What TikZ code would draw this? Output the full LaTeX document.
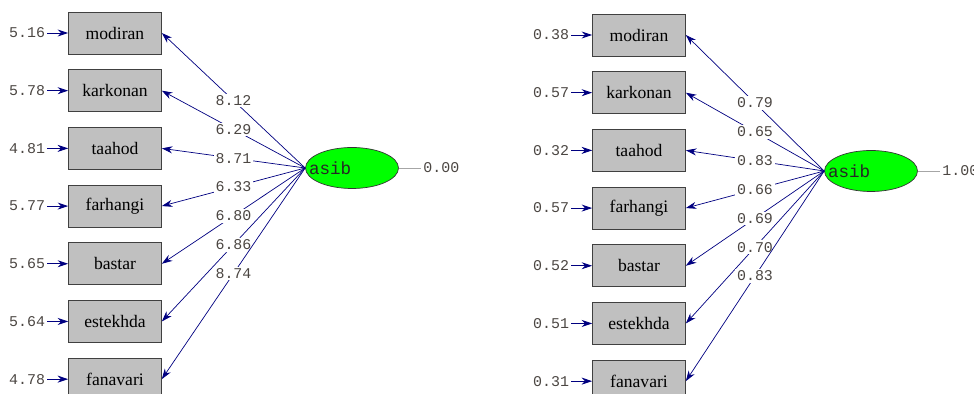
\documentclass[tikz,border=0pt]{standalone}
\usepackage{fontspec}
\setmainfont{Liberation Serif}
\setmonofont{Liberation Mono}
\usepackage{tikz}
\usetikzlibrary{shapes.geometric}
\usetikzlibrary{arrows.meta}
\usetikzlibrary{positioning}
\definecolor{lnavy}{RGB}{0,0,128}
\definecolor{numgray}{RGB}{75,70,66}
\definecolor{boxgray}{RGB}{192,192,192}

\begin{document}
\begin{tikzpicture}
          [x=0.02cm, y=-0.02cm, >={Stealth[length=6pt, width=4pt]},
           var/.style={draw=black!75, fill=boxgray, minimum width=1.86cm,
             minimum height=0.84cm, inner sep=0pt, font=\fontsize{10}{11}\selectfont},
           lat/.style={ellipse, draw=black!80, fill=green, minimum width=1.86cm,
             minimum height=0.82cm, inner sep=0pt},
           latname/.style={inner sep=2pt, text=black!85, font=\ttfamily\fontsize{10}{11}\selectfont},
           num/.style={inner sep=1pt, text=numgray, font=\ttfamily\fontsize{8.5}{9}\selectfont},
           lbl/.style={num, fill=white},
           err/.style={->, draw=lnavy, line width=0.5pt},
           load/.style={->, draw=lnavy, line width=0.4pt}]
          \useasboundingbox (0,0) rectangle (974,394);

          % t-values
          \node (modiran) [var] at (115,33) {modiran};
          \node (karkonan) [var, below=0.3cm of modiran] {karkonan};
          \node (taahod) [var, below=0.3cm of karkonan] {taahod};
          \node (farhangi) [var, below=0.3cm of taahod] {farhangi};
          \node (bastar) [var, below=0.3cm of farhangi] {bastar};
          \node (estekhda) [var, below=0.3cm of bastar] {estekhda};
          \node (fanavari) [var, below=0.3cm of estekhda] {fanavari};
          \node (asib) [lat] at (352,168) {};
          \node (asibtext) [latname, right=0pt of asib.west] {asib};

          \node (emodiran) [num, left=0.42cm of modiran] {5.16};
          \node (ekarkonan) [num, left=0.42cm of karkonan] {5.78};
          \node (etaahod) [num, left=0.42cm of taahod] {4.81};
          \node (efarhangi) [num, left=0.42cm of farhangi] {5.77};
          \node (ebastar) [num, left=0.42cm of bastar] {5.65};
          \node (eestekhda) [num, left=0.42cm of estekhda] {5.64};
          \node (efanavari) [num, left=0.42cm of fanavari] {4.78};
          \node (zasib) [num, right=0.45cm of asib] {0.00};

          \draw[err] (emodiran) -- (modiran);
          \draw[err] (ekarkonan) -- (karkonan);
          \draw[err] (etaahod) -- (taahod);
          \draw[err] (efarhangi) -- (farhangi);
          \draw[err] (ebastar) -- (bastar);
          \draw[err] (eestekhda) -- (estekhda);
          \draw[err] (efanavari) -- (fanavari);
          \draw[black!35] (asib) -- (zasib);

          \draw[load] (asib.west) -- node (lmodiran) [lbl] {8.12} (modiran.east);
          \draw[load] (asib.west) -- node (lkarkonan) [lbl] {6.29} (karkonan.east);
          \draw[load] (asib.west) -- node (ltaahod) [lbl] {8.71} (taahod.east);
          \draw[load] (asib.west) -- node (lfarhangi) [lbl] {6.33} (farhangi.east);
          \draw[load] (asib.west) -- node (lbastar) [lbl] {6.80} (bastar.east);
          \draw[load] (asib.west) -- node (lestekhda) [lbl] {6.86} (estekhda.east);
          \draw[load] (asib.west) -- node (lfanavari) [lbl] {8.74} (fanavari.east);

          % standardized
          \node (modiran2) [var] at (639,35) {modiran};
          \node (karkonan2) [var, below=0.3cm of modiran2] {karkonan};
          \node (taahod2) [var, below=0.3cm of karkonan2] {taahod};
          \node (farhangi2) [var, below=0.3cm of taahod2] {farhangi};
          \node (bastar2) [var, below=0.3cm of farhangi2] {bastar};
          \node (estekhda2) [var, below=0.3cm of bastar2] {estekhda};
          \node (fanavari2) [var, below=0.3cm of estekhda2] {fanavari};
          \node (asib2) [lat] at (871,171) {};
          \node (asibtext2) [latname, right=0pt of asib2.west] {asib};

          \node (emodiran2) [num, left=0.42cm of modiran2] {0.38};
          \node (ekarkonan2) [num, left=0.42cm of karkonan2] {0.57};
          \node (etaahod2) [num, left=0.42cm of taahod2] {0.32};
          \node (efarhangi2) [num, left=0.42cm of farhangi2] {0.57};
          \node (ebastar2) [num, left=0.42cm of bastar2] {0.52};
          \node (eestekhda2) [num, left=0.42cm of estekhda2] {0.51};
          \node (efanavari2) [num, left=0.42cm of fanavari2] {0.31};
          \node (zasib2) [num, right=0.45cm of asib2] {1.00};

          \draw[err] (emodiran2) -- (modiran2);
          \draw[err] (ekarkonan2) -- (karkonan2);
          \draw[err] (etaahod2) -- (taahod2);
          \draw[err] (efarhangi2) -- (farhangi2);
          \draw[err] (ebastar2) -- (bastar2);
          \draw[err] (eestekhda2) -- (estekhda2);
          \draw[err] (efanavari2) -- (fanavari2);
          \draw[black!35] (asib2) -- (zasib2);

          \draw[load] (asib2.west) -- node (lmodiran2) [lbl] {0.79} (modiran2.east);
          \draw[load] (asib2.west) -- node (lkarkonan2) [lbl] {0.65} (karkonan2.east);
          \draw[load] (asib2.west) -- node (ltaahod2) [lbl] {0.83} (taahod2.east);
          \draw[load] (asib2.west) -- node (lfarhangi2) [lbl] {0.66} (farhangi2.east);
          \draw[load] (asib2.west) -- node (lbastar2) [lbl] {0.69} (bastar2.east);
          \draw[load] (asib2.west) -- node (lestekhda2) [lbl] {0.70} (estekhda2.east);
          \draw[load] (asib2.west) -- node (lfanavari2) [lbl] {0.83} (fanavari2.east);

        \end{tikzpicture}
\end{document}
